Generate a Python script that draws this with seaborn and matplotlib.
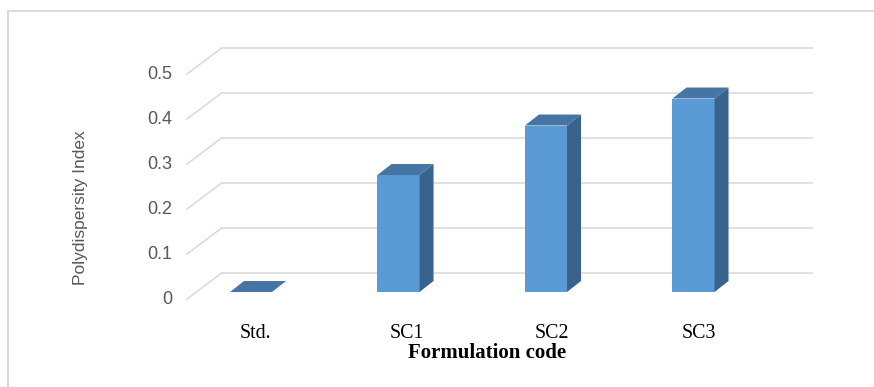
import matplotlib
matplotlib.use("Agg")
import matplotlib.pyplot as plt
from matplotlib.patches import Polygon
from matplotlib.lines import Line2D
import seaborn as sns
import numpy as np

# Polydispersity index per formulation
categories = ["Std.", "SC1", "SC2", "SC3"]
pdi = [0.0, 0.26, 0.37, 0.43]
y_ticks = [0, 0.1, 0.2, 0.3, 0.4, 0.5]
y_tick_labels = ["0", "0.1", "0.2", "0.3", "0.4", "0.5"]

FRONT = "#5B9BD5"
TOP = "#4674A4"
SIDE = "#38638D"
GRID = "#D9D9D9"
TEXT_GREY = "#595959"

sns.set_theme(style="white")
plt.rcParams["font.family"] = ["Liberation Sans", "DejaVu Sans"]

fig = plt.figure(figsize=(8.74, 3.87), dpi=100)
ax = fig.add_axes([0, 0, 1, 1])

bar_w = 0.285
sns.barplot(x=categories, y=pdi, width=bar_w, color=FRONT, saturation=1,
            ax=ax, zorder=2, linewidth=0)

# data window of the front bar plane
ax.set_xlim(-1.7017, 4.2237)
ax.set_ylim(-0.2111, 0.6489)
ax.axis("off")

# oblique depth of the bars and of the chart floor
bar_dx, bar_dy = 0.0949, 0.0244
wall_x0, wall_x1, wall_dy = -0.1966, 3.810, 0.0429
floor_dx, floor_dy = -0.2393, -0.0589

# back-wall gridlines with the floor diagonals
for t in y_ticks:
    yb = t + wall_dy
    ax.plot([wall_x0, wall_x1], [yb, yb], color=GRID, lw=1.1, zorder=0.5,
            solid_capstyle="butt")
    ax.plot([wall_x0, wall_x0 + floor_dx], [yb, yb + floor_dy], color=GRID,
            lw=1.1, zorder=0.5)

# side and top faces of the 3-D bars
for i, v in enumerate(pdi):
    xl, xr = i - bar_w / 2, i + bar_w / 2
    side = [(xr, 0), (xr, v), (xr + bar_dx, v + bar_dy), (xr + bar_dx, bar_dy)]
    top = [(xl, v), (xr, v), (xr + bar_dx, v + bar_dy), (xl + bar_dx, v + bar_dy)]
    ax.add_patch(Polygon(side, closed=True, facecolor=SIDE, edgecolor="none",
                         zorder=2))
    ax.add_patch(Polygon(top, closed=True, facecolor=TOP, edgecolor="none",
                         zorder=2))

# value axis labels at the front of the floor
for t, lab in zip(y_ticks, y_tick_labels):
    ax.text(wall_x0 + floor_dx - 0.095, t + wall_dy + floor_dy, lab,
            ha="right", va="center", fontsize=13, color=TEXT_GREY)

ax.text(-1.1546, 0.1878, "Polydispersity Index", rotation=90, ha="center",
        va="center", fontsize=12.5, color=TEXT_GREY)

# category names and axis title
label_x = [0.027, 1.0576, 2.0407, 3.0373]
for x, lab in zip(label_x, categories):
    ax.text(x, -0.1022, lab, ha="center", va="baseline", fontsize=14.3,
            family=["Liberation Serif", "DejaVu Serif"], color="black")
ax.text(1.598, -0.1460, "Formulation code", ha="center", va="baseline",
        fontsize=15, fontweight="bold",
        family=["Liberation Serif", "DejaVu Serif"], color="black")

# outer frame (top and left edges)
fig.add_artist(Line2D([0.00915, 1.0], [0.9716, 0.9716], color=GRID, lw=1.4,
                      transform=fig.transFigure))
fig.add_artist(Line2D([0.00915, 0.00915], [0.0, 0.9716], color=GRID, lw=1.4,
                      transform=fig.transFigure))

fig.savefig("out.png", dpi=100, facecolor="white")
